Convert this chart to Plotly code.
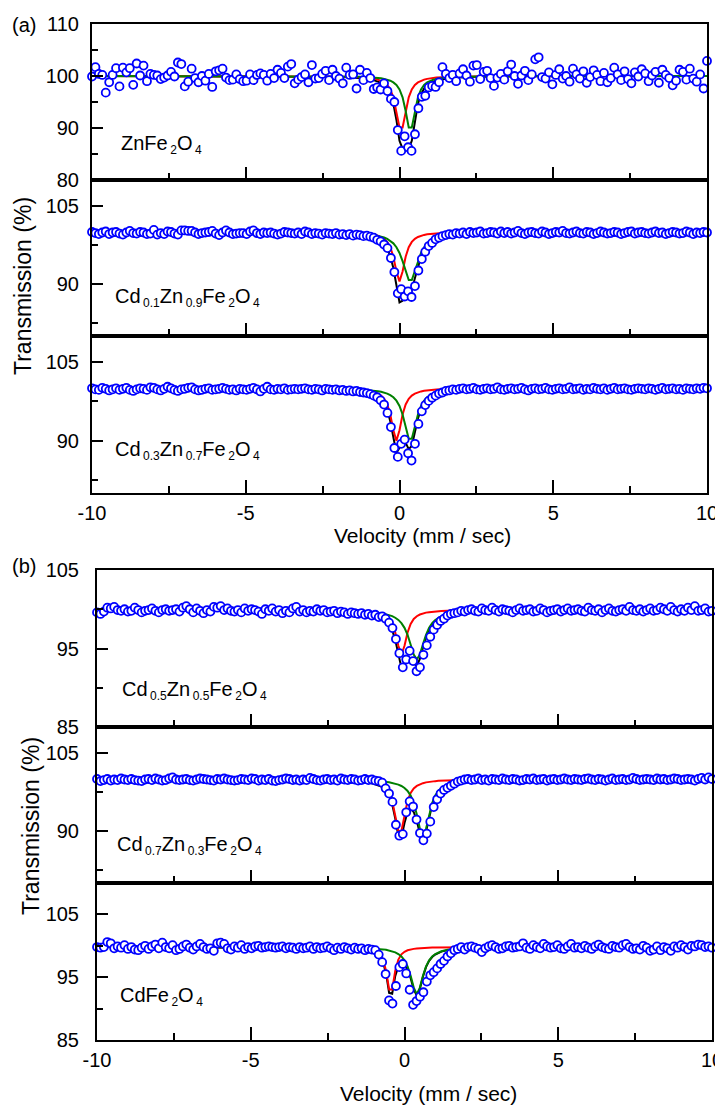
import numpy as np
import plotly.graph_objects as go

# ---------------- data ----------------
N_CHANNELS = 180
VEL_MIN, VEL_MAX = -10.0, 10.0
VELOCITY = np.linspace(VEL_MIN, VEL_MAX, N_CHANNELS)

V_FIT = [-10, -4, -2.5, -2, -1.6, -1.3, -1.1, -1.0, -0.9, -0.8, -0.7, -0.6, -0.5, -0.4, -0.3, -0.2, -0.1,
         0, 0.1, 0.2, 0.3, 0.4, 0.5, 0.6, 0.7, 0.8, 0.9, 1.0, 1.1, 1.2, 1.4, 1.6, 1.9, 2.3, 3, 4.5, 10]

X_TICKS = [-10, -5, 0, 5, 10]
X_TICKTEXT = ["-10", "-5", "0", "5", "10"]
X_MINOR = [-7.5, -2.5, 2.5, 7.5]


def chem(*parts):
    """parts alternate: element, subscript, element, subscript ..."""
    out = ""
    for i, p in enumerate(parts):
        if i % 2 == 0:
            out += p
        else:
            out += ("<span style='font-size:9px'> </span><sub><span style='font-size:12px'>"
                    + p + "</span></sub>")
    return out


LABELS = [chem("ZnFe", "2", "O", "4"),
          chem("Cd", "0.1", "Zn", "0.9", "Fe", "2", "O", "4"),
          chem("Cd", "0.3", "Zn", "0.7", "Fe", "2", "O", "4"),
          chem("Cd", "0.5", "Zn", "0.5", "Fe", "2", "O", "4"),
          chem("Cd", "0.7", "Zn", "0.3", "Fe", "2", "O", "4"),
          chem("CdFe", "2", "O", "4")]

# measured transmission (%)
T_ZN = [99.9, 101.7, 100.4, 100.2, 96.8, 98.8, 100.2, 101.5, 98.0, 101.6, 100.7, 101.5, 98.3, 102.4, 100.1, 102.0, 99.0, 100.4, 100.2, 100.1,
        99.4, 99.7, 100.1, 100.8, 99.9, 102.6, 102.3, 98.0, 98.9, 101.4, 99.6, 98.8, 100.0, 99.1, 100.4, 97.9, 100.9, 101.1, 101.4, 99.7,
        99.2, 99.3, 100.3, 99.4, 99.0, 99.1, 100.3, 99.2, 100.2, 100.5, 100.2, 99.1, 100.4, 99.6, 101.2, 100.6, 99.6, 101.8, 102.3, 98.6,
        99.3, 99.8, 100.3, 98.8, 102.1, 99.5, 99.6, 100.4, 101.0, 99.2, 101.2, 100.0, 99.5, 98.6, 101.6, 100.2, 100.3, 97.6, 101.2, 99.2,
        100.6, 99.6, 97.5, 97.8, 97.4, 98.6, 97.1, 95.6, 95.0, 89.6, 85.6, 88.4, 86.3, 85.6, 88.8, 93.8, 96.0, 96.2, 97.8, 98.1,
        97.9, 98.8, 101.7, 100.4, 99.6, 100.2, 99.0, 100.5, 101.3, 100.1, 98.9, 102.0, 102.1, 99.4, 100.8, 101.0, 99.6, 98.1, 99.7, 100.4,
        99.3, 100.9, 102.2, 100.0, 98.5, 100.1, 101.0, 99.2, 100.3, 103.2, 103.6, 99.8, 99.5, 100.7, 98.4, 100.2, 101.3, 99.5, 100.0, 98.9,
        101.4, 100.3, 99.5, 100.9, 98.7, 99.8, 101.1, 100.2, 99.0, 100.6, 98.8, 99.6, 101.6, 100.3, 99.2, 100.9, 99.4, 98.6, 100.7, 99.9,
        101.3, 100.5, 99.0, 100.1, 100.8, 98.7, 101.2, 100.2, 99.6, 98.2, 99.1, 101.2, 100.8, 99.3, 101.4, 99.5, 98.9, 100.3, 97.6, 102.9]

T_CD01 = [100.0, 99.8, 99.6, 99.9, 100.1, 99.6, 99.9, 100.0, 99.7, 99.5, 99.9, 100.2, 99.8, 99.7, 100.0, 99.9, 99.6, 99.7, 100.4, 99.5,
          99.8, 99.6, 100.1, 100.0, 99.7, 99.5, 100.3, 100.3, 100.2, 100.2, 99.9, 99.6, 99.8, 99.9, 100.0, 100.2, 99.7, 99.4, 99.9, 100.3,
          99.9, 99.6, 99.7, 99.8, 99.8, 99.6, 100.1, 100.3, 99.8, 99.6, 99.9, 99.8, 99.9, 99.7, 99.5, 99.7, 100.0, 99.9, 99.8, 99.7,
          99.9, 99.6, 100.1, 99.9, 99.6, 99.8, 99.7, 99.5, 99.8, 99.7, 99.6, 99.8, 99.5, 99.6, 99.4, 99.6, 99.3, 99.5, 99.4, 99.2,
          99.3, 99.1, 98.9, 98.5, 98.2, 97.6, 96.9, 95.0, 92.3, 88.2, 89.0, 87.6, 88.6, 87.5, 89.6, 92.6, 94.8, 96.2, 97.3, 97.9,
          98.6, 98.9, 99.2, 99.4, 99.6, 99.5, 99.8, 99.7, 99.9, 99.6, 100.0, 99.8, 99.9, 100.1, 99.7, 99.8, 100.0, 99.9, 99.7, 100.1,
          99.8, 100.0, 99.7, 99.9, 100.2, 99.8, 99.6, 99.9, 100.0, 99.8, 99.7, 100.1, 99.9, 99.6, 99.8, 100.0, 99.9, 100.2, 99.8, 99.7,
          99.9, 100.1, 99.8, 99.7, 100.0, 99.9, 99.6, 99.8, 100.1, 99.9, 99.7, 99.8, 100.0, 99.9, 99.6, 99.8, 100.0, 100.1, 99.7, 99.9,
          100.0, 99.8, 99.7, 99.9, 100.1, 99.8, 99.9, 99.6, 99.8, 100.0, 99.9, 99.7, 99.8, 100.1, 99.9, 99.6, 99.9, 99.8, 100.0, 99.9]

T_CD03 = [100.0, 99.8, 99.7, 100.1, 99.9, 99.6, 99.8, 100.0, 99.7, 99.9, 100.1, 99.7, 99.5, 99.8, 100.0, 99.9, 99.7, 100.2, 100.1, 99.8,
          99.6, 99.9, 100.3, 100.0, 99.7, 99.5, 99.8, 99.9, 100.1, 100.2, 99.8, 99.6, 99.7, 99.9, 100.0, 99.7, 99.8, 99.9, 100.1, 99.9,
          99.7, 99.8, 99.6, 99.9, 99.8, 99.7, 99.9, 100.1, 99.8, 99.4, 99.9, 100.3, 99.8, 99.7, 99.9, 99.8, 100.0, 99.7, 99.8, 99.9,
          99.8, 99.9, 100.0, 99.8, 99.7, 99.9, 99.8, 99.6, 99.9, 99.8, 99.7, 99.8, 99.6, 99.7, 99.5, 99.6, 99.4, 99.5, 99.3, 99.2,
          99.1, 98.9, 98.6, 98.3, 97.7, 96.9, 95.3, 92.6, 88.6, 86.9, 89.4, 90.2, 87.6, 86.2, 89.4, 93.2, 95.6, 96.8, 97.6, 98.2,
          98.6, 99.0, 99.2, 99.5, 99.6, 99.8, 99.7, 99.9, 100.0, 99.8, 99.9, 100.1, 99.8, 99.7, 99.9, 100.0, 99.8, 99.9, 100.2, 99.8,
          99.7, 99.9, 100.0, 99.8, 99.9, 100.1, 99.8, 99.6, 99.9, 100.0, 99.8, 99.9, 100.1, 99.8, 99.7, 99.9, 100.0, 99.8, 99.9, 100.2,
          99.8, 99.9, 100.0, 99.7, 99.9, 99.8, 100.1, 99.9, 99.8, 100.0, 99.7, 99.9, 100.1, 99.8, 99.9, 100.0, 99.8, 99.7, 99.9, 100.0,
          99.9, 99.8, 100.0, 99.9, 99.7, 99.9, 100.1, 99.8, 99.9, 100.0, 99.8, 99.9, 99.7, 100.0, 99.9, 99.8, 100.0, 99.9, 100.1, 100.0]

T_CD05 = [99.6, 99.4, 99.7, 100.2, 100.1, 100.3, 99.9, 99.8, 100.0, 99.7, 99.8, 100.2, 99.9, 99.6, 99.8, 99.9, 100.1, 99.8, 99.6, 99.9,
          100.0, 99.8, 99.9, 100.0, 99.7, 100.2, 100.4, 100.0, 99.6, 100.1, 99.8, 99.5, 99.9, 99.7, 100.3, 100.2, 100.4, 99.9, 100.1, 99.8,
          99.7, 99.9, 99.6, 100.1, 99.8, 100.0, 99.9, 99.7, 99.4, 100.0, 99.8, 100.1, 99.7, 99.9, 99.5, 99.8, 99.6, 100.1, 100.3, 99.7,
          99.9, 99.6, 99.8, 99.7, 100.0, 99.8, 99.9, 99.6, 99.7, 99.8, 99.5, 99.7, 99.6, 99.4, 99.6, 99.5, 99.4, 99.5, 99.3, 99.4,
          99.2, 99.3, 99.0, 99.1, 98.8, 98.3, 97.6, 96.2, 94.4, 92.6, 93.6, 94.7, 93.4, 92.1, 92.6, 94.2, 95.4, 96.5, 97.4, 98.0,
          98.5, 98.8, 99.2, 99.4, 99.5, 99.6, 99.8, 99.7, 99.9, 100.0, 99.8, 99.7, 100.1, 99.9, 99.8, 100.2, 99.9, 99.7, 100.0, 99.9,
          99.8, 99.6, 99.9, 100.1, 99.8, 99.9, 100.0, 99.7, 99.8, 100.1, 99.9, 99.6, 99.8, 99.9, 100.0, 99.7, 99.9, 100.1, 99.8, 99.9,
          100.0, 99.8, 99.7, 100.2, 99.9, 99.8, 100.0, 99.6, 99.9, 100.1, 99.8, 99.7, 99.9, 100.0, 99.8, 100.3, 99.9, 99.8, 100.0, 99.7,
          99.9, 100.1, 99.8, 99.9, 100.2, 100.0, 99.8, 100.3, 99.9, 99.7, 100.0, 99.8, 100.2, 99.9, 100.4, 99.8, 99.9, 100.1, 99.7, 99.8]

T_CD07 = [100.0, 99.6, 99.8, 100.0, 99.7, 99.9, 99.8, 100.1, 99.9, 99.8, 100.0, 99.8, 99.7, 99.6, 99.9, 100.0, 99.8, 100.1, 99.9, 99.7,
          99.8, 100.1, 100.3, 99.9, 99.8, 99.9, 100.0, 99.8, 99.7, 99.9, 100.1, 100.0, 99.9, 99.8, 99.7, 100.0, 99.9, 100.1, 99.9, 99.8,
          99.7, 99.8, 100.0, 99.9, 99.8, 100.1, 100.0, 99.7, 99.9, 99.8, 100.0, 99.7, 99.6, 99.8, 99.9, 100.1, 100.0, 99.8, 99.9, 99.7,
          99.9, 99.8, 100.2, 100.0, 99.8, 99.7, 99.9, 100.0, 99.8, 99.9, 99.7, 100.1, 99.9, 99.8, 100.0, 99.9, 99.7, 99.8, 100.0, 99.8,
          99.9, 99.7, 99.6, 99.3, 98.2, 97.2, 95.6, 91.2, 89.1, 89.4, 93.6, 95.7, 94.7, 92.2, 89.6, 88.2, 89.5, 91.8, 94.6, 96.1,
          97.2, 97.9, 98.3, 98.7, 99.1, 99.5, 99.7, 99.9, 100.0, 99.8, 99.9, 100.1, 99.8, 99.9, 99.7, 100.0, 99.9, 99.8, 100.1, 99.9,
          99.8, 100.0, 99.9, 99.7, 99.8, 100.0, 99.9, 100.1, 99.8, 99.9, 100.0, 99.7, 99.9, 100.0, 99.8, 99.9, 100.1, 99.9, 99.8, 100.0,
          99.9, 99.8, 100.0, 100.1, 99.9, 99.8, 100.0, 99.9, 99.7, 99.9, 100.1, 99.8, 99.9, 100.0, 99.8, 99.9, 100.2, 100.0, 99.8, 99.9,
          100.0, 99.9, 99.8, 100.1, 99.9, 100.0, 99.8, 99.9, 100.1, 100.0, 99.8, 99.9, 100.0, 99.9, 99.7, 100.0, 100.2, 99.9, 100.3, 100.0]

T_CD10 = [99.8, 99.7, 99.8, 100.6, 100.4, 99.6, 99.9, 99.7, 100.1, 99.5, 99.8, 99.4, 99.3, 99.7, 100.0, 99.5, 99.9, 100.2, 99.6, 100.5,
          99.8, 99.6, 100.1, 99.3, 99.5, 99.9, 100.2, 99.7, 99.4, 99.9, 100.3, 99.8, 99.5, 99.6, 99.2, 100.4, 100.5, 100.3, 99.6, 99.4,
          99.9, 99.7, 100.1, 99.5, 99.8, 99.6, 99.9, 100.0, 99.7, 99.8, 99.9, 99.8, 99.7, 99.8, 99.9, 99.6, 99.8, 99.7, 99.5, 99.8,
          99.6, 99.7, 99.9, 99.5, 99.8, 99.6, 99.7, 99.9, 99.6, 99.3, 99.7, 99.5, 99.8, 99.6, 99.4, 99.7, 99.5, 99.6, 99.3, 99.5,
          99.4, 99.3, 98.6, 97.4, 95.5, 91.3, 90.8, 93.6, 96.6, 97.1, 95.6, 93.0, 90.6, 91.2, 91.9, 92.6, 94.3, 95.3, 95.8, 96.4,
          97.1, 97.6, 98.3, 98.8, 99.3, 99.5, 99.8, 99.4, 99.8, 99.9, 99.7, 99.5, 99.0, 99.6, 99.9, 100.1, 99.8, 99.5, 99.6, 99.9,
          100.0, 99.7, 99.8, 99.9, 100.4, 99.7, 99.5, 100.1, 99.8, 99.6, 100.3, 99.9, 99.7, 99.8, 100.1, 99.6, 99.5, 99.9, 100.3, 99.7,
          99.8, 99.6, 100.0, 99.7, 99.5, 99.9, 100.2, 99.8, 99.6, 99.5, 100.0, 99.8, 99.7, 100.1, 100.3, 99.8, 99.5, 99.6, 99.4, 100.0,
          99.7, 99.2, 99.4, 99.9, 99.3, 99.8, 99.6, 99.2, 99.9, 99.7, 100.1, 99.8, 99.4, 100.0, 99.9, 100.2, 100.1, 99.8, 99.9, 99.7]

# fitted sub-spectra (red = site 1, green = site 2, black = total)
RED_ZN = [100.0, 99.97, 99.94, 99.9, 99.85, 99.78, 99.69, 99.63, 99.56, 99.45, 99.3, 99.09, 98.77, 98.27, 97.42, 95.9, 93.28, 90.12,
          90.12, 93.28, 95.9, 97.42, 98.27, 98.77, 99.09, 99.3, 99.45, 99.56, 99.63, 99.69, 99.78, 99.83, 99.88, 99.92, 99.95, 99.98, 100.0]
GRN_ZN = [100.0, 99.98, 99.95, 99.92, 99.89, 99.85, 99.8, 99.77, 99.74, 99.69, 99.63, 99.56, 99.45, 99.3, 99.09, 98.77, 98.27, 97.42,
          95.9, 93.28, 90.12, 90.12, 93.28, 95.9, 97.42, 98.27, 98.77, 99.09, 99.3, 99.45, 99.63, 99.74, 99.83, 99.89, 99.94, 99.98, 100.0]
BLK_ZN = [99.99, 99.95, 99.88, 99.83, 99.74, 99.62, 99.49, 99.4, 99.3, 99.14, 98.93, 98.65, 98.22, 97.57, 96.51, 94.67, 91.55, 87.54,
          86.02, 86.56, 86.02, 87.54, 91.55, 94.67, 96.51, 97.57, 98.22, 98.65, 98.93, 99.14, 99.4, 99.57, 99.71, 99.81, 99.89, 99.96, 99.99]

RED_CD01 = [100.0, 99.98, 99.94, 99.91, 99.85, 99.78, 99.7, 99.63, 99.55, 99.44, 99.28, 99.05, 98.69, 98.1, 97.07, 95.25, 92.4, 90.5,
            92.4, 95.25, 97.07, 98.1, 98.69, 99.05, 99.28, 99.44, 99.55, 99.63, 99.7, 99.74, 99.81, 99.85, 99.9, 99.93, 99.96, 99.98, 100.0]
GRN_CD01 = [99.99, 99.96, 99.9, 99.85, 99.78, 99.7, 99.61, 99.55, 99.48, 99.4, 99.28, 99.14, 98.95, 98.69, 98.33, 97.82, 97.07, 95.97,
            94.39, 92.4, 90.76, 90.76, 92.4, 94.39, 95.97, 97.07, 97.82, 98.33, 98.69, 98.95, 99.28, 99.48, 99.66, 99.78, 99.88, 99.95, 99.99]
BLK_CD01 = [99.99, 99.93, 99.84, 99.75, 99.63, 99.48, 99.31, 99.19, 99.04, 98.84, 98.57, 98.19, 97.64, 96.79, 95.4, 93.07, 89.47, 86.47,
            86.79, 87.65, 87.83, 88.86, 91.09, 93.44, 95.25, 96.51, 97.37, 97.96, 98.39, 98.69, 99.09, 99.34, 99.55, 99.71, 99.84, 99.93, 99.99]

RED_CD03 = [100.0, 99.97, 99.93, 99.89, 99.83, 99.73, 99.62, 99.53, 99.41, 99.25, 99.0, 98.62, 98.0, 96.92, 95.0, 92.0, 90.0, 92.0,
            95.0, 96.92, 98.0, 98.62, 99.0, 99.25, 99.41, 99.53, 99.62, 99.68, 99.73, 99.77, 99.83, 99.86, 99.9, 99.93, 99.96, 99.98, 100.0]
GRN_CD03 = [99.99, 99.97, 99.92, 99.89, 99.84, 99.78, 99.71, 99.67, 99.62, 99.55, 99.46, 99.35, 99.2, 99.0, 98.71, 98.29, 97.64, 96.62,
            95.0, 92.65, 90.38, 90.38, 92.65, 95.0, 96.62, 97.64, 98.29, 98.71, 99.0, 99.2, 99.46, 99.62, 99.75, 99.84, 99.91, 99.96, 99.99]
BLK_CD03 = [99.99, 99.94, 99.86, 99.78, 99.66, 99.51, 99.33, 99.2, 99.03, 98.79, 98.46, 97.97, 97.2, 95.92, 93.71, 90.29, 87.64, 88.62,
            90.0, 89.57, 88.38, 89.0, 91.65, 94.25, 96.03, 97.17, 97.9, 98.39, 98.73, 98.97, 99.29, 99.48, 99.65, 99.77, 99.87, 99.95, 99.99]

RED_CD05 = [99.9, 99.89, 99.86, 99.84, 99.8, 99.75, 99.68, 99.63, 99.57, 99.47, 99.33, 99.11, 98.76, 98.14, 97.05, 95.34, 94.2, 95.34,
            97.05, 98.14, 98.76, 99.11, 99.33, 99.47, 99.57, 99.63, 99.68, 99.72, 99.75, 99.77, 99.8, 99.82, 99.84, 99.86, 99.88, 99.89, 99.9]
GRN_CD05 = [99.9, 99.87, 99.83, 99.8, 99.76, 99.71, 99.66, 99.62, 99.58, 99.53, 99.46, 99.38, 99.27, 99.13, 98.92, 98.64, 98.23, 97.63,
            96.75, 95.54, 94.23, 93.6, 94.23, 95.54, 96.75, 97.63, 98.23, 98.64, 98.92, 99.13, 99.38, 99.53, 99.66, 99.75, 99.82, 99.87, 99.89]
BLK_CD05 = [99.89, 99.86, 99.79, 99.74, 99.66, 99.56, 99.44, 99.36, 99.25, 99.1, 98.89, 98.59, 98.13, 97.37, 96.07, 94.08, 92.53, 93.07,
            93.9, 93.78, 93.09, 92.81, 93.66, 95.11, 96.42, 97.36, 98.01, 98.46, 98.77, 98.99, 99.28, 99.45, 99.6, 99.71, 99.79, 99.86, 99.89]

RED_CD07 = [99.9, 99.87, 99.82, 99.78, 99.7, 99.59, 99.46, 99.35, 99.2, 98.99, 98.67, 98.17, 97.32, 95.8, 93.18, 90.02, 90.02, 93.18,
            95.8, 97.32, 98.17, 98.67, 98.99, 99.2, 99.35, 99.46, 99.53, 99.59, 99.64, 99.67, 99.73, 99.76, 99.8, 99.83, 99.86, 99.88, 99.9]
GRN_CD07 = [99.89, 99.87, 99.83, 99.8, 99.76, 99.71, 99.67, 99.64, 99.6, 99.56, 99.51, 99.44, 99.36, 99.25, 99.11, 98.92, 98.66, 98.27,
            97.7, 96.81, 95.39, 93.19, 90.42, 88.9, 90.42, 93.19, 95.39, 96.81, 97.7, 98.27, 98.92, 99.25, 99.51, 99.67, 99.78, 99.86, 99.89]
BLK_CD07 = [99.89, 99.84, 99.75, 99.68, 99.56, 99.4, 99.22, 99.09, 98.91, 98.65, 98.28, 97.71, 96.78, 95.15, 92.39, 89.04, 88.78, 91.55,
            93.6, 94.23, 93.66, 91.96, 89.51, 88.2, 89.87, 92.75, 95.02, 96.5, 97.44, 98.05, 98.75, 99.12, 99.41, 99.6, 99.74, 99.84, 99.89]

RED_CD10 = [99.8, 99.79, 99.76, 99.73, 99.68, 99.57, 99.42, 99.28, 99.05, 98.64, 97.81, 96.05, 93.05, 93.05, 96.05, 97.81, 98.64, 99.05,
            99.28, 99.42, 99.51, 99.57, 99.62, 99.65, 99.68, 99.69, 99.71, 99.72, 99.73, 99.74, 99.75, 99.76, 99.77, 99.78, 99.79, 99.79, 99.8]
GRN_CD10 = [99.8, 99.78, 99.75, 99.72, 99.69, 99.64, 99.6, 99.57, 99.53, 99.49, 99.43, 99.36, 99.26, 99.13, 98.95, 98.69, 98.3, 97.69,
            96.73, 95.23, 93.34, 92.3, 93.34, 95.23, 96.73, 97.69, 98.3, 98.69, 98.95, 99.13, 99.36, 99.49, 99.6, 99.67, 99.73, 99.77, 99.8]
BLK_CD10 = [99.79, 99.76, 99.71, 99.65, 99.56, 99.42, 99.22, 99.05, 98.78, 98.33, 97.44, 95.61, 92.51, 92.38, 95.2, 96.7, 97.14, 96.94,
            96.21, 94.85, 93.05, 92.07, 93.15, 95.08, 96.6, 97.59, 98.21, 98.61, 98.88, 99.07, 99.31, 99.45, 99.57, 99.65, 99.72, 99.77, 99.79]

# y-axis ranges and ticks per panel
Y_RANGES = [[80, 110], [80, 110], [80, 110], [85, 105], [80, 110], [85, 110]]
Y_MAJOR = [[80, 90, 100, 110], [90, 105], [90, 105], [85, 95, 105], [90, 105], [85, 95, 105]]
Y_MINOR = [[85, 95, 105], [82.5, 97.5], [82.5, 97.5], [90, 100], [82.5, 97.5], [90, 100]]

DATA = [T_ZN, T_CD01, T_CD03, T_CD05, T_CD07, T_CD10]
REDS = [RED_ZN, RED_CD01, RED_CD03, RED_CD05, RED_CD07, RED_CD10]
GRNS = [GRN_ZN, GRN_CD01, GRN_CD03, GRN_CD05, GRN_CD07, GRN_CD10]
BLKS = [BLK_ZN, BLK_CD01, BLK_CD03, BLK_CD05, BLK_CD07, BLK_CD10]

# ---------------- layout (page pixels) ----------------
PAGE_OFF = 8                    # default body margin of the page
W, H = 723, 1108                # figure size (extends past the window edge)
FONT = "Liberation Sans, Arial, Helvetica, sans-serif"
FS_TICK = 20
FS_LABEL = 20
PANEL_X = [(92, 707)] * 3 + [(97, 712)] * 3
PANEL_Y = [(24, 180), (180, 336), (336, 493), (570, 727), (727, 883), (883, 1040)]
SHOW_XLABELS = [False, False, True, False, False, True]
LABEL_POS = [(119, 145), (113, 298), (113, 450), (120, 690), (115, 845), (118, 996)]


def px(x):
    return (x - PAGE_OFF) / W


def py(y):
    return 1 - (y - PAGE_OFF) / H


fig = go.Figure()
layout = dict(template="none", width=W, height=H, margin=dict(l=0, r=0, t=0, b=0, pad=0),
              paper_bgcolor="white", plot_bgcolor="white", showlegend=False,
              font=dict(family=FONT, size=FS_TICK, color="black"))
annotations = []

for k in range(6):
    n = k + 1
    xa = "x" if n == 1 else f"x{n}"
    ya = "y" if n == 1 else f"y{n}"
    for ys, col in ((BLKS[k], "black"), (REDS[k], "#ff0000"), (GRNS[k], "#008000")):
        fig.add_trace(go.Scatter(x=V_FIT, y=ys, mode="lines", line=dict(color=col, width=2),
                                 xaxis=xa, yaxis=ya, hoverinfo="skip"))
    fig.add_trace(go.Scatter(x=VELOCITY, y=DATA[k], mode="markers", cliponaxis=False,
                             marker=dict(symbol="circle", size=8, color="white",
                                         line=dict(color="#0000ff", width=1.8)),
                             xaxis=xa, yaxis=ya))
    x0, x1 = PANEL_X[k]
    y0, y1 = PANEL_Y[k]
    layout["xaxis" if n == 1 else f"xaxis{n}"] = dict(
        domain=[px(x0), px(x1)], anchor=ya, range=[VEL_MIN, VEL_MAX], automargin=False,
        showline=True, mirror=True, linecolor="black", linewidth=2,
        ticks="inside", tickmode="array", tickvals=X_TICKS, ticktext=X_TICKTEXT,
        ticklen=13, tickwidth=2, tickcolor="black",
        minor=dict(tickmode="array", tickvals=X_MINOR, ticks="inside", ticklen=7, tickwidth=2,
                   tickcolor="black", showgrid=False),
        showticklabels=SHOW_XLABELS[k], tickfont=dict(size=FS_TICK, family=FONT, color="black"),
        ticklabelstandoff=1, ticklabeloverflow="allow", showgrid=False, zeroline=False)
    layout["yaxis" if n == 1 else f"yaxis{n}"] = dict(
        domain=[py(y1), py(y0)], anchor=xa, range=Y_RANGES[k], automargin=False,
        showline=True, mirror=True, linecolor="black", linewidth=2,
        ticks="inside", tickmode="array", tickvals=Y_MAJOR[k], ticklen=11, tickwidth=2, tickcolor="black",
        minor=dict(tickmode="array", tickvals=Y_MINOR[k], ticks="inside", ticklen=6, tickwidth=2,
                   tickcolor="black", showgrid=False),
        tickfont=dict(size=FS_TICK, family=FONT, color="black"),
        ticklabelstandoff=7 if k < 3 else 12, ticklabeloverflow="allow", showgrid=False, zeroline=False)
    lx, ly = LABEL_POS[k]
    annotations.append(dict(text=LABELS[k], x=px(lx), y=py(ly), xref="paper", yref="paper",
                            xanchor="left", yanchor="middle", showarrow=False,
                            font=dict(size=FS_LABEL, family=FONT, color="black")))

# axis titles and panel letters
annotations += [
    dict(text="Velocity (mm / sec)", x=px(423), y=py(535), xref="paper", yref="paper",
         xanchor="center", yanchor="middle", showarrow=False, font=dict(size=21)),
    dict(text="Velocity (mm / sec)", x=px(428), y=py(1093), xref="paper", yref="paper",
         xanchor="center", yanchor="middle", showarrow=False, font=dict(size=21)),
    dict(text="Transmission (%)", x=px(23), y=py(286), xref="paper", yref="paper", textangle=-90,
         xanchor="center", yanchor="middle", showarrow=False, font=dict(size=23)),
    dict(text="Transmission (%)", x=px(31), y=py(826), xref="paper", yref="paper", textangle=-90,
         xanchor="center", yanchor="middle", showarrow=False, font=dict(size=23)),
    dict(text="(a)", x=px(24), y=py(25), xref="paper", yref="paper",
         xanchor="center", yanchor="middle", showarrow=False, font=dict(size=20)),
    dict(text="(b)", x=px(24), y=py(566), xref="paper", yref="paper",
         xanchor="center", yanchor="middle", showarrow=False, font=dict(size=20)),
]
layout["annotations"] = annotations
fig.update_layout(**layout)
fig.write_html("out.html")
